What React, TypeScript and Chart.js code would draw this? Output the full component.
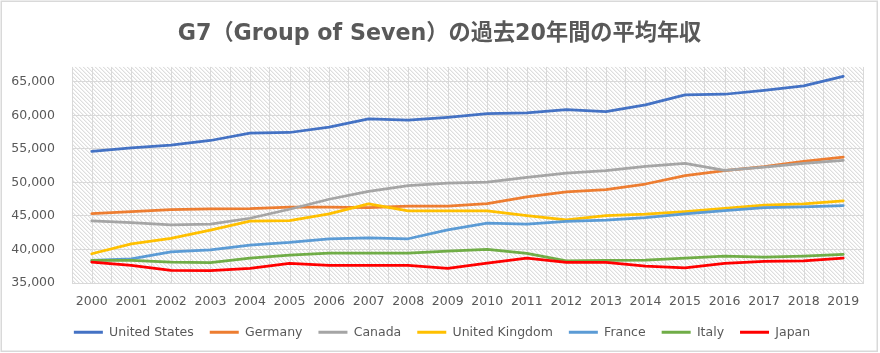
import React, { useEffect, useRef } from "react";
import { Chart, registerables } from "chart.js";

Chart.register(...registerables);

const years = ["2000","2001","2002","2003","2004","2005","2006","2007","2008","2009","2010","2011","2012","2013","2014","2015","2016","2017","2018","2019"];

const unitedStates = [54600, 55150, 55550, 56240, 57330, 57430, 58220, 59460, 59260, 59700, 60250, 60350, 60850, 60550, 61540, 63030, 63130, 63720, 64370, 65800];
const germany = [45350, 45640, 45940, 46040, 46090, 46300, 46290, 46240, 46440, 46440, 46840, 47830, 48570, 48900, 49750, 50990, 51740, 52330, 53120, 53770];
const canada = [44260, 44010, 43660, 43760, 44650, 45990, 47480, 48660, 49500, 49900, 50050, 50740, 51390, 51740, 52380, 52830, 51790, 52280, 52830, 53270];
const unitedKingdom = [39360, 40840, 41640, 42880, 44210, 44310, 45300, 46790, 45740, 45740, 45740, 45050, 44400, 45050, 45250, 45640, 46140, 46590, 46790, 47230];
const france = [38360, 38610, 39650, 39950, 40640, 41040, 41590, 41740, 41590, 42930, 43920, 43770, 44170, 44360, 44760, 45300, 45790, 46240, 46340, 46540];
const italy = [38360, 38360, 38120, 38020, 38710, 39160, 39460, 39460, 39460, 39750, 40000, 39400, 38310, 38360, 38410, 38710, 39010, 38860, 39010, 39260];
const japan = [38120, 37620, 36880, 36830, 37180, 37920, 37620, 37620, 37620, 37180, 37970, 38710, 38070, 38070, 37520, 37270, 37920, 38220, 38310, 38710];

const seriesNames = ["United States", "Germany", "Canada", "United Kingdom", "France", "Italy", "Japan"];
const seriesValues = [unitedStates, germany, canada, unitedKingdom, france, italy, japan];
const seriesColors = ["#4472C4", "#ED7D31", "#A5A5A5", "#FFC000", "#5B9BD5", "#70AD47", "#FF0000"];

const titleText = "G7（Group of Seven）の過去20年間の平均年収";
const yMin = 35000;
const yMax = 67200;
const yStep = 5000;

const TEXT = "#595959";
const GRID = "#d9d9d9";
const FONT = "'DejaVu Sans', 'Noto Sans CJK JP', sans-serif";

function makePattern(ctx: CanvasRenderingContext2D) {
  const pc = document.createElement("canvas");
  pc.width = 4;
  pc.height = 4;
  const p = pc.getContext("2d")!;
  p.fillStyle = "#ffffff";
  p.fillRect(0, 0, 4, 4);
  for (let i = 0; i < 4; i++) {
    p.fillStyle = "#dedede";
    p.fillRect(i, i, 1, 1);
    p.fillStyle = "#f1f1f1";
    p.fillRect((i + 1) % 4, i, 1, 1);
  }
  return ctx.createPattern(pc, "repeat");
}

const backgroundPlugin = {
  id: "bgHatch",
  afterLayout(chart: any) {
    if (chart.legend) {
      chart.legend.left += 6.5;
      chart.legend.right += 6.5;
    }
    if (chart.titleBlock) {
      chart.titleBlock.left += 4;
      chart.titleBlock.right += 4;
    }
  },
  beforeDraw(chart: any) {
    const { ctx, chartArea, width, height } = chart;
    ctx.save();
    ctx.fillStyle = "#ffffff";
    ctx.fillRect(0, 0, width, height);
    ctx.strokeStyle = "#d9d9d9";
    ctx.lineWidth = 1.5;
    ctx.strokeRect(1.25, 1.25, width - 4, height - 3);
    const pat = makePattern(ctx);
    if (pat) {
      ctx.fillStyle = pat;
      ctx.fillRect(chartArea.left, chartArea.top, chartArea.right - chartArea.left, chartArea.bottom - chartArea.top);
    }
    ctx.restore();
  },
  beforeDatasetsDraw(chart: any) {
    const { ctx, chartArea } = chart;
    const xs = chart.scales.x;
    ctx.save();
    ctx.strokeStyle = GRID;
    ctx.lineWidth = 1;
    for (let i = 0; i < years.length; i++) {
      const x = Math.round(xs.getPixelForValue(i)) + 0.5;
      ctx.beginPath();
      ctx.moveTo(x, chartArea.top);
      ctx.lineTo(x, chartArea.bottom);
      ctx.stroke();
    }
    ctx.restore();
  },
};

export default function App() {
  const ref = useRef<HTMLCanvasElement>(null);
  useEffect(() => {
    document.body.style.margin = "0";
    const canvas = ref.current!;
    const chart = new Chart(canvas, {
      type: "line",
      data: {
        labels: years,
        datasets: seriesNames.map((name, i) => ({
          label: name,
          data: seriesValues[i],
          borderColor: seriesColors[i],
          backgroundColor: seriesColors[i],
          borderWidth: 2.75,
          pointRadius: 0,
          pointHoverRadius: 0,
          tension: 0,
          fill: false,
          borderJoinStyle: "round" as const,
          borderCapStyle: "round" as const,
          order: seriesNames.length - 1 - i,
        })),
      },
      options: {
        responsive: false,
        animation: false,
        devicePixelRatio: 1,
        layout: { padding: { left: 8, right: 17, top: 0, bottom: 4.5 } },
        plugins: {
          title: {
            display: true,
            text: titleText,
            color: TEXT,
            font: { family: FONT, size: 22.2, weight: "bold", lineHeight: 1.2 },
            padding: { top: 20.5, bottom: 19.8 },
          },
          legend: {
            display: true,
            position: "bottom",
            labels: {
              color: TEXT,
              font: { family: FONT, size: 12.5 },
              boxWidth: 29,
              boxHeight: 3,
              padding: 16,
              sort: (a: any, b: any) => a.datasetIndex - b.datasetIndex,
              generateLabels: (c: any) =>
                Chart.defaults.plugins.legend.labels.generateLabels(c).map((l: any) => ({ ...l, lineWidth: 0 })),
            },
          },
          tooltip: { enabled: false },
        },
        scales: {
          x: {
            type: "category",
            offset: true,
            grid: { display: true, color: GRID, offset: true, drawTicks: false, lineWidth: 1 },
            border: { display: true, color: GRID },
            afterFit: (scale: any) => {
              scale.height = 27;
            },
            ticks: { color: TEXT, font: { family: FONT, size: 12.5 }, padding: 11, maxRotation: 0, autoSkip: false },
          },
          y: {
            min: yMin,
            max: yMax,
            grid: { display: true, color: GRID, drawTicks: false },
            border: { display: false },
            afterBuildTicks: (scale: any) => {
              const t = [];
              for (let v = yMin; v <= yMax; v += yStep) t.push({ value: v });
              scale.ticks = t;
            },
            afterFit: (scale: any) => {
              scale.width = 64;
            },
            ticks: {
              color: TEXT,
              font: { family: FONT, size: 12.5 },
              padding: 17,
              callback: (v: any) => Number(v).toLocaleString("en-US"),
            },
          },
        },
      },
      plugins: [backgroundPlugin],
    });
    return () => chart.destroy();
  }, []);
  return (
    <div style={{ width: 880, height: 353 }}>
      <canvas ref={ref} width={880} height={353} style={{ display: "block" }} />
    </div>
  );
}
